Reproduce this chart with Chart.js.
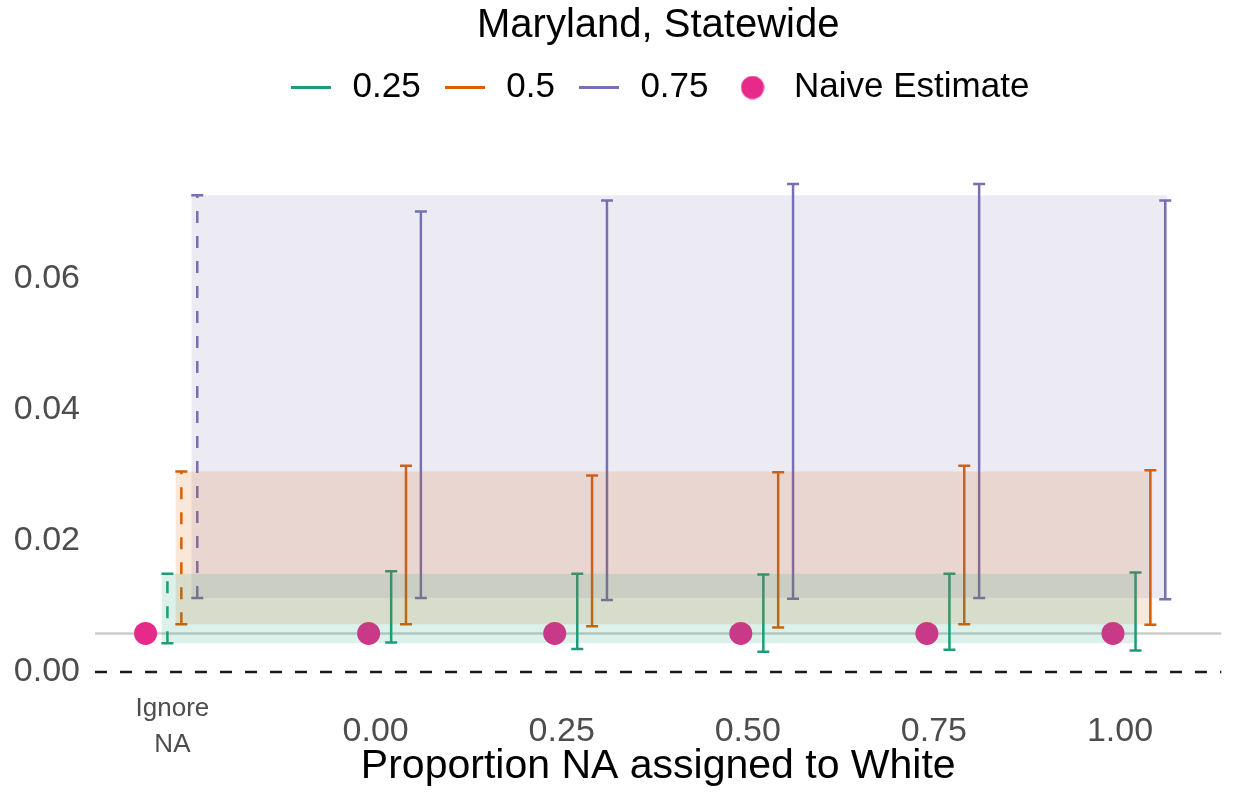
<!DOCTYPE html>
<html>
<head>
<meta charset="utf-8">
<script src="https://cdn.jsdelivr.net/npm/chart.js@4.4.1/dist/chart.umd.min.js"></script>
<style>
  html, body { margin: 0; padding: 0; background: #fff; }
</style>
</head>
<body>
<canvas id="myChart" width="1233" height="792"></canvas>
<script>
// data
const categories = ["Ignore NA", "0.00", "0.25", "0.50", "0.75", "1.00"];
const categoryX = [-0.273, 0, 0.25, 0.5, 0.75, 1];
const naiveEstimate = [0.0059, 0.0059, 0.0059, 0.0059, 0.0059, 0.0059];
const q25Low = [0.0044, 0.0045, 0.0035, 0.0031, 0.0034, 0.0033];
const q25High = [0.0150, 0.0154, 0.0150, 0.0149, 0.0150, 0.0152];
const q50Low = [0.0073, 0.0073, 0.0070, 0.0068, 0.0073, 0.0072];
const q50High = [0.0306, 0.0315, 0.0300, 0.0305, 0.0315, 0.0308];
const q75Low = [0.0113, 0.0113, 0.0110, 0.0112, 0.0113, 0.0111];
const q75High = [0.0728, 0.0703, 0.0720, 0.0745, 0.0745, 0.0720];
const seriesNames = ["0.25", "0.5", "0.75"];
const yTicks = [0, 0.02, 0.04, 0.06];

// layout / style
const COLORS = ["#1b9e77", "#d95f02", "#7570b3"];
const BAND_FILL = ["rgba(27,158,119,0.15)", "rgba(217,95,2,0.15)", "rgba(117,112,179,0.14)"];
const PINK = "#e7298a";
const DODGE = [-0.0094, 0.0209, 0.0408, 0.0608];        // point, 0.25, 0.5, 0.75
const DODGE_IGNORE = [-0.0361, -0.0067, 0.012, 0.0334];
const XMIN = -0.377, XMAX = 1.1364;
const YMIN = -0.00366, YMAX = 0.08504;
const FONT = '"Liberation Sans", Arial, Helvetica, sans-serif';

Chart.defaults.font.family = FONT;

function xAt(i, k) {
  return categoryX[i] + (i === 0 ? DODGE_IGNORE[k] : DODGE[k]);
}

const lows = [q25Low, q50Low, q75Low];
const highs = [q25High, q50High, q75High];

const datasets = [];

// shaded bands from the "Ignore NA" intervals (drawn on top)
for (let k = 0; k < 3; k++) {
  datasets.push({
    label: "band " + seriesNames[k],
    data: [
      { x: xAt(0, k + 1) - 0.008, y: highs[k][0] },
      { x: xAt(5, k + 1) + 0.003, y: highs[k][0] },
    ],
    borderColor: "transparent",
    borderWidth: 0,
    pointRadius: 0,
    backgroundColor: BAND_FILL[k],
    fill: { value: lows[k][0] },
    order: 0,
  });
}

// error bars
for (let k = 0; k < 3; k++) {
  const solid = [];
  for (let i = 1; i < categories.length; i++) {
    const x = xAt(i, k + 1);
    solid.push({ x, y: lows[k][i] }, { x, y: highs[k][i] }, { x, y: null });
  }
  const common = {
    borderColor: COLORS[k],
    borderWidth: 2.5,
    pointStyle: "line",
    pointRadius: 6,
    pointBorderWidth: 2.5,
    pointBorderColor: COLORS[k],
    fill: false,
    spanGaps: false,
    order: 2,
  };
  datasets.push({ label: seriesNames[k], data: solid, ...common });
  const x0 = xAt(0, k + 1);
  datasets.push({
    label: seriesNames[k] + " ignore",
    data: [{ x: x0, y: lows[k][0] }, { x: x0, y: highs[k][0] }],
    borderDash: [12, 13],
    ...common,
  });
}

// naive estimate points
datasets.push({
  label: "Naive Estimate",
  data: categoryX.map((c, i) => ({ x: xAt(i, 0), y: naiveEstimate[i] })),
  showLine: false,
  pointRadius: 11.5,
  pointBackgroundColor: PINK,
  pointBorderWidth: 0,
  order: 3,
});

// reference lines
datasets.push({
  label: "naive line",
  data: [{ x: XMIN, y: naiveEstimate[0] }, { x: XMAX, y: naiveEstimate[0] }],
  borderColor: "#cccccc",
  borderWidth: 2.5,
  pointRadius: 0,
  order: 4,
});
datasets.push({
  label: "zero",
  data: [{ x: XMIN, y: 0 }, { x: XMAX, y: 0 }],
  borderColor: "#1a1a1a",
  borderWidth: 2.5,
  borderDash: [12, 13],
  pointRadius: 0,
  order: 4,
});

// legend symbols
function lineSymbol(color) {
  const c = document.createElement("canvas");
  c.width = 40;
  c.height = 3;
  const g = c.getContext("2d");
  g.fillStyle = color;
  g.fillRect(0, 0, 40, 3);
  return c;
}
function dotSymbol(color) {
  const c = document.createElement("canvas");
  c.width = 24;
  c.height = 24;
  const g = c.getContext("2d");
  g.fillStyle = color;
  g.beginPath();
  g.arc(12, 12, 11.5, 0, Math.PI * 2);
  g.fill();
  return c;
}

const legendItems = [
  ...seriesNames.map((name, k) => ({
    text: name, pointStyle: lineSymbol(COLORS[k]), fillStyle: COLORS[k],
    strokeStyle: COLORS[k], lineWidth: 0, hidden: false, fontColor: "#000",
  })),
  { text: "Naive Estimate", pointStyle: dotSymbol(PINK), fillStyle: PINK,
    strokeStyle: PINK, lineWidth: 0, hidden: false, fontColor: "#000" },
];

const ctx = document.getElementById("myChart").getContext("2d");
new Chart(ctx, {
  type: "line",
  data: { datasets },
  options: {
    responsive: false,
    animation: false,
    layout: { padding: { left: 0, right: 6, top: 0, bottom: 0 } },
    elements: { line: { tension: 0 } },
    plugins: {
      tooltip: { enabled: false },
      title: {
        display: true,
        text: "Maryland, Statewide",
        color: "#000",
        font: { size: 40, weight: "normal" },
        padding: { top: 2, bottom: 0 },
        fullSize: false,
      },
      legend: {
        display: true,
        fullSize: false,
        labels: {
          usePointStyle: true,
          pointStyleWidth: 48,
          padding: 20,
          color: "#000",
          font: { size: 35 },
          generateLabels: () => legendItems,
        },
      },
    },
    scales: {
      x: {
        type: "linear",
        min: XMIN,
        max: XMAX,
        grid: { display: false, drawTicks: false },
        border: { display: false },
        afterBuildTicks: (scale) => {
          scale.ticks = categoryX.map((v) => ({ value: v }));
        },
        afterFit: (scale) => {
          scale.height = 96;
        },
        ticks: {
          autoSkip: false,
          maxRotation: 0,
          padding: -5,
          color: "#4d4d4d",
          font: (c) => (c.index === 0 ? { size: 26, lineHeight: "36px" } : { size: 34, lineHeight: "82px" }),
          callback: (value, index) => (index === 0 ? categories[0].split(" ") : categories[index]),
        },
        title: {
          display: true,
          text: "Proportion NA assigned to White",
          color: "#000",
          font: { size: 41, lineHeight: 1.1 },
          padding: { top: 0, bottom: 3 },
        },
      },
      y: {
        type: "linear",
        min: YMIN,
        max: YMAX,
        grid: { display: false, drawTicks: false },
        border: { display: false },
        afterBuildTicks: (scale) => {
          scale.ticks = yTicks.map((v) => ({ value: v }));
        },
        afterFit: (scale) => {
          scale.width = 95;
        },
        ticks: {
          padding: 15,
          color: "#4d4d4d",
          font: { size: 34 },
          callback: (v) => v.toFixed(2),
        },
      },
    },
  },
});
</script>
</body>
</html>
